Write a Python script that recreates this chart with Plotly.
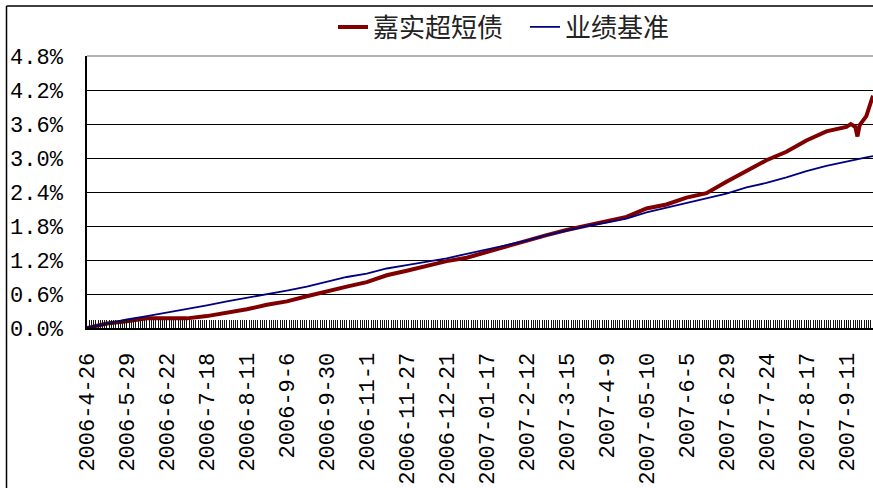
import plotly.graph_objects as go

# ---- data ----
tick_labels = ["2006-4-26", "2006-5-29", "2006-6-22", "2006-7-18", "2006-8-11",
               "2006-9-6", "2006-9-30", "2006-11-1", "2006-11-27", "2006-12-21",
               "2007-01-17", "2007-2-12", "2007-3-15", "2007-4-9", "2007-05-10",
               "2007-6-5", "2007-6-29", "2007-7-24", "2007-8-17", "2007-9-11"]
days_per_label = 18
last_day = 354

# trading-day index of each sampled point
day_index = [0, 9, 18, 27, 36, 45, 54, 63, 72, 81,
             90, 99, 108, 117, 126, 135, 144, 153, 162, 171,
             180, 189, 198, 207, 216, 225, 234, 243, 252, 261,
             270, 279, 288, 297, 306, 315, 324, 333, 342,
             344, 346, 347, 348, 351, 354]

fund = [0.00, 0.08, 0.12, 0.17, 0.17, 0.17, 0.21, 0.27, 0.33, 0.41,
        0.47, 0.56, 0.65, 0.73, 0.81, 0.93, 1.01, 1.10, 1.18, 1.24,
        1.34, 1.45, 1.54, 1.64, 1.73, 1.81, 1.89, 1.96, 2.11, 2.18,
        2.30, 2.38, 2.58, 2.78, 2.96, 3.11, 3.31, 3.47, 3.55,
        3.60, 3.55, 3.38, 3.58, 3.74, 4.10]

benchmark = [0.00, 0.08, 0.15, 0.21, 0.27, 0.33, 0.40, 0.47, 0.53, 0.60,
             0.66, 0.73, 0.82, 0.90, 0.96, 1.05, 1.11, 1.17, 1.23, 1.31,
             1.39, 1.46, 1.54, 1.64, 1.72, 1.80, 1.86, 1.93, 2.04, 2.12,
             2.20, 2.29, 2.37, 2.48, 2.56, 2.66, 2.77, 2.86, 2.94,
             2.96, 2.97, 2.98, 2.99, 3.01, 3.035]

series_names = ["嘉实超短债", "业绩基准"]

# ---- figure ----
W, H = 873, 488
L, R, T, B = 87, 0, 56, 160
pw, ph = W - L - R, H - T - B

fig = go.Figure()
fig.add_trace(go.Scatter(x=day_index, y=fund, mode="lines", name=series_names[0],
                         line=dict(color="#800000", width=4), cliponaxis=False))
fig.add_trace(go.Scatter(x=day_index, y=benchmark, mode="lines", name=series_names[1],
                         line=dict(color="#000080", width=1.8)))

tick_pos = [i * days_per_label for i in range(len(tick_labels))]

mono = "Liberation Mono"
fig.update_layout(
    width=W, height=H,
    margin=dict(l=L, r=R, t=T, b=B, pad=0, autoexpand=False),
    paper_bgcolor="white", plot_bgcolor="white",
    showlegend=True,
    legend=dict(orientation="h", xref="container", yref="container",
                x=333 / W, xanchor="left",
                y=1 - 27 / H, yanchor="middle",
                font=dict(family="Noto Sans CJK SC", size=26, color="#222"),
                bgcolor="rgba(0,0,0,0)", itemwidth=30,
                entrywidth=147, entrywidthmode="pixels"),
    xaxis=dict(range=[0, last_day], tickmode="array", tickvals=tick_pos,
               ticktext=tick_labels, tickangle=-90, automargin=False,
               tickfont=dict(family=mono, size=22, color="black"),
               ticks="inside", ticklen=8, tickcolor="black", tickwidth=1,
               minor=dict(tick0=0, dtick=1, ticks="inside", ticklen=8,
                          tickcolor="#111", tickwidth=1, showgrid=False),
               showline=True, linecolor="black", linewidth=2,
               showgrid=False, zeroline=False, ticklabelstandoff=14),
    yaxis=dict(range=[0, 4.8], tickmode="linear", tick0=0, dtick=0.6,
               tickformat=".1f", ticksuffix="%", automargin=False,
               tickfont=dict(family=mono, size=22, color="black"),
               ticks="inside", ticklen=8, tickcolor="black",
               showline=True, linecolor="black", linewidth=1.5,
               showgrid=True, gridcolor="black", gridwidth=1,
               zeroline=False, ticklabelstandoff=18),
)

# plot-area top border (grey) and outer chart frame (left and top edges)
fig.add_shape(type="line", xref="paper", yref="paper", x0=0, x1=1, y0=1, y1=1,
              line=dict(color="#999", width=1.5))
fig.add_shape(type="line", xref="paper", yref="paper",
              x0=(6.5 - L) / pw, x1=(6.5 - L) / pw, y0=-0.6, y1=1 + (T - 6) / ph,
              line=dict(color="black", width=1.5))
fig.add_shape(type="line", xref="paper", yref="paper",
              x0=(6.5 - L) / pw, x1=1.05, y0=1 + (T - 6) / ph, y1=1 + (T - 6) / ph,
              line=dict(color="black", width=1.5))

fig.write_html("out.html",
               config={"displayModeBar": False},
               post_script="document.body.style.margin='0';"
                           "document.body.style.overflow='hidden';")
